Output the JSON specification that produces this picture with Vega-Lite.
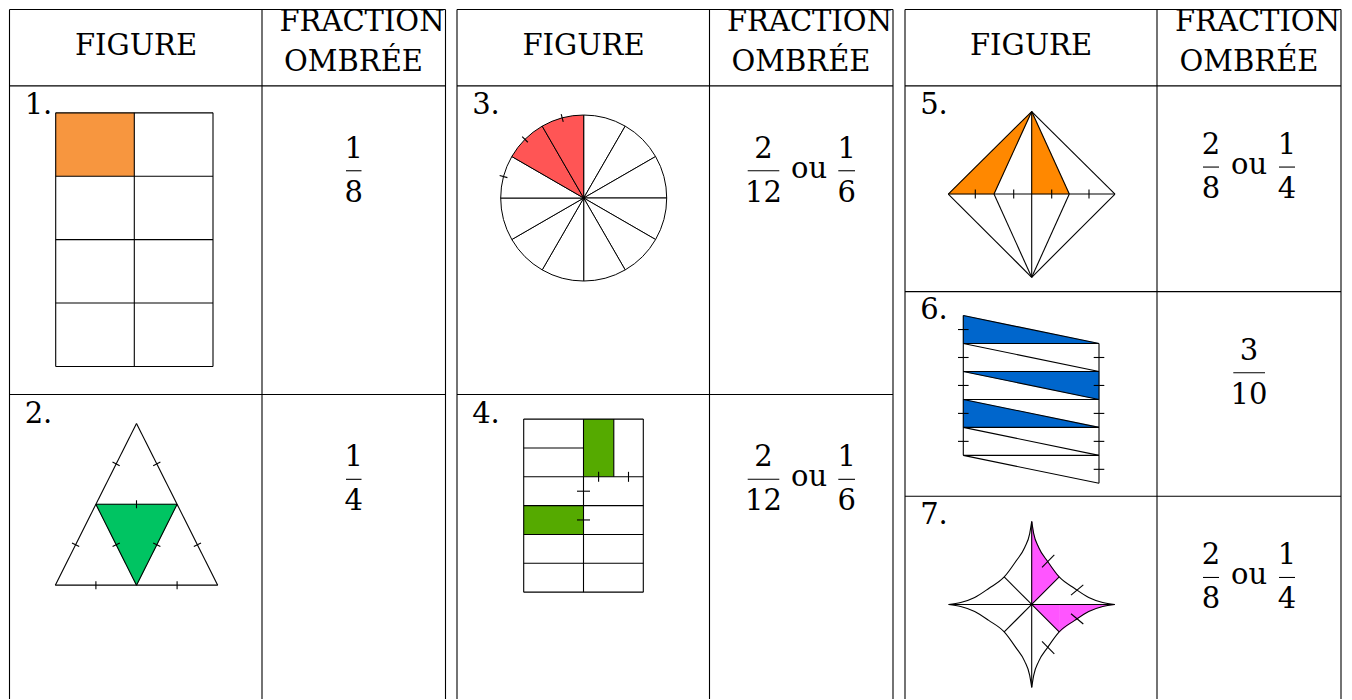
{
  "$schema": "https://vega.github.io/schema/vega-lite/v6.json",
  "width": 1352,
  "height": 700,
  "autosize": {"type": "fit", "contains": "padding"},
  "padding": 0,
  "background": "white",
  "config": {"view": {"stroke": null}},
  "datasets": {
    "rects": [
      {"x": 55.7, "x2": 134.3, "y": 113, "y2": 176.5, "c": "orange1"},
      {"x": 583.5, "x2": 613.8, "y": 419.7, "y2": 477.5, "c": "green2"},
      {"x": 523.7, "x2": 583.5, "y": 506.3, "y2": 535.2, "c": "green2"}
    ],
    "polys": [
      {"g": "f2", "x": 95.9, "y": 505, "y2": 505, "c": "green1"},
      {"g": "f2", "x": 136.5, "y": 505, "y2": 586, "c": "green1"},
      {"g": "f2", "x": 177.1, "y": 505, "y2": 505, "c": "green1"},
      {"g": "f5a", "x": 948.3, "y": 194.3, "y2": 194.3, "c": "orange2"},
      {"g": "f5a", "x": 994, "y": 149.04, "y2": 194.3, "c": "orange2"},
      {"g": "f5a", "x": 1031.7, "y": 111.7, "y2": 111.7, "c": "orange2"},
      {"g": "f5b", "x": 1031.7, "y": 111.7, "y2": 194.3, "c": "orange2"},
      {"g": "f5b", "x": 1069.3, "y": 194.3, "y2": 194.3, "c": "orange2"},
      {"g": "f6a", "x": 963.3, "y": 316, "y2": 344, "c": "blue"},
      {"g": "f6a", "x": 1099, "y": 344, "y2": 344, "c": "blue"},
      {"g": "f6b", "x": 963.3, "y": 372, "y2": 372, "c": "blue"},
      {"g": "f6b", "x": 1099, "y": 372, "y2": 400, "c": "blue"},
      {"g": "f6c", "x": 963.3, "y": 400, "y2": 428, "c": "blue"},
      {"g": "f6c", "x": 1099, "y": 428, "y2": 428, "c": "blue"},
      {"g": "f7b1", "x": 1031.7, "y": 605.3, "y2": 605.3, "c": "magenta"},
      {"g": "f7b1", "x": 1059.2, "y": 605.3, "y2": 632.8, "c": "magenta"}
    ],
    "curvefills": [
      {"g": "f7a", "x": 1031.7, "y": 522.3, "y2": 605.3, "c": "magenta"},
      {"g": "f7a", "x": 1033.7, "y": 534.3, "y2": 603.3, "c": "magenta"},
      {"g": "f7a", "x": 1038.7, "y": 548.3, "y2": 598.3, "c": "magenta"},
      {"g": "f7a", "x": 1047.7, "y": 562.3, "y2": 589.3, "c": "magenta"},
      {"g": "f7a", "x": 1059.2, "y": 577.8, "y2": 577.8, "c": "magenta"},
      {"g": "f7b2", "x": 1059.2, "y": 605.3, "y2": 632.8, "c": "magenta"},
      {"g": "f7b2", "x": 1074.7, "y": 605.3, "y2": 621.3, "c": "magenta"},
      {"g": "f7b2", "x": 1088.7, "y": 605.3, "y2": 612.3, "c": "magenta"},
      {"g": "f7b2", "x": 1102.7, "y": 605.3, "y2": 607.3, "c": "magenta"},
      {"g": "f7b2", "x": 1114.7, "y": 605.3, "y2": 605.3, "c": "magenta"}
    ],
    "pie": [
      {"cx": 583.7, "cy": 198.3, "t0": 0, "t1": 1, "c": "white"},
      {"cx": 583.7, "cy": 198.3, "t0": 1, "t1": 2, "c": "white"},
      {"cx": 583.7, "cy": 198.3, "t0": 2, "t1": 3, "c": "white"},
      {"cx": 583.7, "cy": 198.3, "t0": 3, "t1": 4, "c": "white"},
      {"cx": 583.7, "cy": 198.3, "t0": 4, "t1": 5, "c": "white"},
      {"cx": 583.7, "cy": 198.3, "t0": 5, "t1": 6, "c": "white"},
      {"cx": 583.7, "cy": 198.3, "t0": 6, "t1": 7, "c": "white"},
      {"cx": 583.7, "cy": 198.3, "t0": 7, "t1": 8, "c": "white"},
      {"cx": 583.7, "cy": 198.3, "t0": 8, "t1": 9, "c": "white"},
      {"cx": 583.7, "cy": 198.3, "t0": 9, "t1": 10, "c": "white"},
      {"cx": 583.7, "cy": 198.3, "t0": 10, "t1": 11, "c": "red"},
      {"cx": 583.7, "cy": 198.3, "t0": 11, "t1": 12, "c": "red"}
    ],
    "segs": [
      {"x": 9.5, "y": 9.5, "x2": 445.5, "y2": 9.5},
      {"x": 457, "y": 9.5, "x2": 893, "y2": 9.5},
      {"x": 905, "y": 9.5, "x2": 1341, "y2": 9.5},
      {"x": 9.5, "y": 86, "x2": 445.5, "y2": 86},
      {"x": 457, "y": 86, "x2": 893, "y2": 86},
      {"x": 905, "y": 86, "x2": 1341, "y2": 86},
      {"x": 9.5, "y": 9.5, "x2": 9.5, "y2": 700},
      {"x": 262, "y": 9.5, "x2": 262, "y2": 700},
      {"x": 445.5, "y": 9.5, "x2": 445.5, "y2": 700},
      {"x": 457, "y": 9.5, "x2": 457, "y2": 700},
      {"x": 709.5, "y": 9.5, "x2": 709.5, "y2": 700},
      {"x": 893, "y": 9.5, "x2": 893, "y2": 700},
      {"x": 905, "y": 9.5, "x2": 905, "y2": 700},
      {"x": 1157, "y": 9.5, "x2": 1157, "y2": 700},
      {"x": 1341, "y": 9.5, "x2": 1341, "y2": 700},
      {"x": 9.5, "y": 395, "x2": 445.5, "y2": 395},
      {"x": 457, "y": 395, "x2": 893, "y2": 395},
      {"x": 905, "y": 292, "x2": 1341, "y2": 292},
      {"x": 905, "y": 497, "x2": 1341, "y2": 497},

      {"x": 55.7, "y": 113, "x2": 213, "y2": 113},
      {"x": 213, "y": 113, "x2": 213, "y2": 367},
      {"x": 55.7, "y": 367, "x2": 213, "y2": 367},
      {"x": 55.7, "y": 113, "x2": 55.7, "y2": 367},
      {"x": 134.3, "y": 113, "x2": 134.3, "y2": 367},
      {"x": 55.7, "y": 176.5, "x2": 213, "y2": 176.5},
      {"x": 55.7, "y": 240, "x2": 213, "y2": 240},
      {"x": 55.7, "y": 303.5, "x2": 213, "y2": 303.5},

      {"x": 136.5, "y": 424, "x2": 55.3, "y2": 586},
      {"x": 55.3, "y": 586, "x2": 217.7, "y2": 586},
      {"x": 217.7, "y": 586, "x2": 136.5, "y2": 424},
      {"x": 95.9, "y": 505, "x2": 177.1, "y2": 505},
      {"x": 95.9, "y": 505, "x2": 136.5, "y2": 586},
      {"x": 177.1, "y": 505, "x2": 136.5, "y2": 586},
      {"x": 112.5, "y": 462.7, "x2": 119.7, "y2": 466.3},
      {"x": 72.0, "y": 543.7, "x2": 79.2, "y2": 547.3},
      {"x": 153.2, "y": 466.3, "x2": 160.4, "y2": 462.7},
      {"x": 193.8, "y": 547.3, "x2": 201.0, "y2": 543.7},
      {"x": 95.9, "y": 582, "x2": 95.9, "y2": 590},
      {"x": 177.1, "y": 582, "x2": 177.1, "y2": 590},
      {"x": 136.5, "y": 501, "x2": 136.5, "y2": 509},
      {"x": 112.6, "y": 547.3, "x2": 119.8, "y2": 543.7},
      {"x": 153.2, "y": 543.7, "x2": 160.4, "y2": 547.3},

      {"x": 563.25, "y": 122, "x2": 561.18, "y2": 114.27},
      {"x": 527.84, "y": 142.44, "x2": 522.18, "y2": 136.78},
      {"x": 507.39, "y": 177.85, "x2": 499.67, "y2": 175.78},

      {"x": 523.7, "y": 419.7, "x2": 643.3, "y2": 419.7},
      {"x": 643.3, "y": 419.7, "x2": 643.3, "y2": 593},
      {"x": 523.7, "y": 593, "x2": 643.3, "y2": 593},
      {"x": 523.7, "y": 419.7, "x2": 523.7, "y2": 593},
      {"x": 523.7, "y": 448.6, "x2": 583.5, "y2": 448.6},
      {"x": 523.7, "y": 477.5, "x2": 643.3, "y2": 477.5},
      {"x": 523.7, "y": 506.3, "x2": 643.3, "y2": 506.3},
      {"x": 523.7, "y": 535.2, "x2": 643.3, "y2": 535.2},
      {"x": 523.7, "y": 564.1, "x2": 643.3, "y2": 564.1},
      {"x": 583.5, "y": 419.7, "x2": 583.5, "y2": 593},
      {"x": 613.8, "y": 419.7, "x2": 613.8, "y2": 477.5},
      {"x": 598.6, "y": 472.5, "x2": 598.6, "y2": 482.5},
      {"x": 628.5, "y": 472.5, "x2": 628.5, "y2": 482.5},
      {"x": 577, "y": 491.9, "x2": 590, "y2": 491.9},
      {"x": 577, "y": 520.7, "x2": 590, "y2": 520.7},

      {"x": 1031.7, "y": 111.7, "x2": 948.3, "y2": 194.3},
      {"x": 1031.7, "y": 111.7, "x2": 1115, "y2": 194.3},
      {"x": 1031.7, "y": 277.7, "x2": 948.3, "y2": 194.3},
      {"x": 1031.7, "y": 277.7, "x2": 1115, "y2": 194.3},
      {"x": 1031.7, "y": 111.7, "x2": 994, "y2": 194.3},
      {"x": 1031.7, "y": 111.7, "x2": 1069.3, "y2": 194.3},
      {"x": 1031.7, "y": 277.7, "x2": 994, "y2": 194.3},
      {"x": 1031.7, "y": 277.7, "x2": 1069.3, "y2": 194.3},
      {"x": 1031.7, "y": 111.7, "x2": 1031.7, "y2": 277.7},
      {"x": 948.3, "y": 194.3, "x2": 1115, "y2": 194.3},
      {"x": 975.3, "y": 189.8, "x2": 975.3, "y2": 198.8},
      {"x": 1013.7, "y": 189.8, "x2": 1013.7, "y2": 198.8},
      {"x": 1051.7, "y": 189.8, "x2": 1051.7, "y2": 198.8},
      {"x": 1089, "y": 189.8, "x2": 1089, "y2": 198.8},

      {"x": 963.3, "y": 316, "x2": 963.3, "y2": 456},
      {"x": 1099, "y": 344, "x2": 1099, "y2": 484},
      {"x": 963.3, "y": 344, "x2": 1099, "y2": 344},
      {"x": 963.3, "y": 372, "x2": 1099, "y2": 372},
      {"x": 963.3, "y": 400, "x2": 1099, "y2": 400},
      {"x": 963.3, "y": 428, "x2": 1099, "y2": 428},
      {"x": 963.3, "y": 456, "x2": 1099, "y2": 456},
      {"x": 963.3, "y": 316, "x2": 1099, "y2": 344},
      {"x": 963.3, "y": 344, "x2": 1099, "y2": 372},
      {"x": 963.3, "y": 372, "x2": 1099, "y2": 400},
      {"x": 963.3, "y": 400, "x2": 1099, "y2": 428},
      {"x": 963.3, "y": 428, "x2": 1099, "y2": 456},
      {"x": 963.3, "y": 456, "x2": 1099, "y2": 484},
      {"x": 958, "y": 330, "x2": 968.6, "y2": 330},
      {"x": 958, "y": 358, "x2": 968.6, "y2": 358},
      {"x": 958, "y": 386, "x2": 968.6, "y2": 386},
      {"x": 958, "y": 414, "x2": 968.6, "y2": 414},
      {"x": 958, "y": 442, "x2": 968.6, "y2": 442},
      {"x": 1093.7, "y": 358, "x2": 1104.3, "y2": 358},
      {"x": 1093.7, "y": 386, "x2": 1104.3, "y2": 386},
      {"x": 1093.7, "y": 414, "x2": 1104.3, "y2": 414},
      {"x": 1093.7, "y": 442, "x2": 1104.3, "y2": 442},
      {"x": 1093.7, "y": 470, "x2": 1104.3, "y2": 470},

      {"x": 1031.7, "y": 522.3, "x2": 1031.7, "y2": 688.3},
      {"x": 948.7, "y": 605.3, "x2": 1114.7, "y2": 605.3},
      {"x": 1031.7, "y": 605.3, "x2": 1059.2, "y2": 577.8},
      {"x": 1031.7, "y": 605.3, "x2": 1004.2, "y2": 577.8},
      {"x": 1031.7, "y": 605.3, "x2": 1004.2, "y2": 632.8},
      {"x": 1031.7, "y": 605.3, "x2": 1059.2, "y2": 632.8},
      {"x": 1042, "y": 568.3, "x2": 1054.3, "y2": 555.7},
      {"x": 1071, "y": 596, "x2": 1083.3, "y2": 585.7},
      {"x": 1071, "y": 614.6, "x2": 1083.3, "y2": 624.9},
      {"x": 1042, "y": 642.3, "x2": 1054.3, "y2": 654.9},

      {"x": 346, "y": 171, "x2": 361.5, "y2": 171},
      {"x": 346, "y": 480, "x2": 361.5, "y2": 480},
      {"x": 747.7, "y": 171, "x2": 779.3, "y2": 171},
      {"x": 838.3, "y": 171, "x2": 855, "y2": 171},
      {"x": 747.7, "y": 480, "x2": 779.3, "y2": 480},
      {"x": 838.3, "y": 480, "x2": 855, "y2": 480},
      {"x": 1203, "y": 167.3, "x2": 1219, "y2": 167.3},
      {"x": 1279, "y": 167.3, "x2": 1295, "y2": 167.3},
      {"x": 1233.3, "y": 373.3, "x2": 1265, "y2": 373.3},
      {"x": 1203, "y": 578.3, "x2": 1219, "y2": 578.3},
      {"x": 1279, "y": 578.3, "x2": 1295, "y2": 578.3}
    ],
    "curves": [
      {"g": "ur", "x": 1031.7, "y": 522.3}, {"g": "ur", "x": 1033.7, "y": 534.3}, {"g": "ur", "x": 1038.7, "y": 548.3},
      {"g": "ur", "x": 1047.7, "y": 562.3}, {"g": "ur", "x": 1059.2, "y": 577.8}, {"g": "ur", "x": 1074.7, "y": 589.3},
      {"g": "ur", "x": 1088.7, "y": 598.3}, {"g": "ur", "x": 1102.7, "y": 603.3}, {"g": "ur", "x": 1114.7, "y": 605.3},
      {"g": "ul", "x": 948.7, "y": 605.3}, {"g": "ul", "x": 960.7, "y": 603.3}, {"g": "ul", "x": 974.7, "y": 598.3},
      {"g": "ul", "x": 988.7, "y": 589.3}, {"g": "ul", "x": 1004.2, "y": 577.8}, {"g": "ul", "x": 1015.7, "y": 562.3},
      {"g": "ul", "x": 1024.7, "y": 548.3}, {"g": "ul", "x": 1029.7, "y": 534.3}, {"g": "ul", "x": 1031.7, "y": 522.3},
      {"g": "ll", "x": 948.7, "y": 605.3}, {"g": "ll", "x": 960.7, "y": 607.3}, {"g": "ll", "x": 974.7, "y": 612.3},
      {"g": "ll", "x": 988.7, "y": 621.3}, {"g": "ll", "x": 1004.2, "y": 632.8}, {"g": "ll", "x": 1015.7, "y": 648.3},
      {"g": "ll", "x": 1024.7, "y": 662.3}, {"g": "ll", "x": 1029.7, "y": 676.3}, {"g": "ll", "x": 1031.7, "y": 688.3},
      {"g": "lr", "x": 1031.7, "y": 688.3}, {"g": "lr", "x": 1033.7, "y": 676.3}, {"g": "lr", "x": 1038.7, "y": 662.3},
      {"g": "lr", "x": 1047.7, "y": 648.3}, {"g": "lr", "x": 1059.2, "y": 632.8}, {"g": "lr", "x": 1074.7, "y": 621.3},
      {"g": "lr", "x": 1088.7, "y": 612.3}, {"g": "lr", "x": 1102.7, "y": 607.3}, {"g": "lr", "x": 1114.7, "y": 605.3}
    ],
    "texts": [
      {"t": "FIGURE", "x": 136, "y": 55.5},
      {"t": "FIGURE", "x": 583.5, "y": 55.5},
      {"t": "FIGURE", "x": 1031, "y": 55.5},
      {"t": "FRACTION", "x": 362, "y": 31},
      {"t": "FRACTION", "x": 809.5, "y": 31},
      {"t": "FRACTION", "x": 1257.5, "y": 31},
      {"t": "OMBRÉE", "x": 353.5, "y": 71},
      {"t": "OMBRÉE", "x": 801, "y": 71},
      {"t": "OMBRÉE", "x": 1249, "y": 71},
      {"t": "1.", "x": 38.5, "y": 113.7},
      {"t": "2.", "x": 38.5, "y": 423.3},
      {"t": "3.", "x": 486, "y": 113.7},
      {"t": "4.", "x": 486, "y": 423.3},
      {"t": "5.", "x": 934, "y": 113.7},
      {"t": "6.", "x": 934, "y": 319.7},
      {"t": "7.", "x": 934, "y": 524.7},
      {"t": "1", "x": 353.75, "y": 158},
      {"t": "8", "x": 353.75, "y": 202},
      {"t": "1", "x": 353.75, "y": 467},
      {"t": "4", "x": 353.75, "y": 511},
      {"t": "2", "x": 763.5, "y": 158},
      {"t": "12", "x": 763.5, "y": 202},
      {"t": "ou", "x": 809, "y": 178},
      {"t": "1", "x": 846.7, "y": 158},
      {"t": "6", "x": 846.7, "y": 202},
      {"t": "2", "x": 763.5, "y": 467},
      {"t": "12", "x": 763.5, "y": 511},
      {"t": "ou", "x": 809, "y": 487},
      {"t": "1", "x": 846.7, "y": 467},
      {"t": "6", "x": 846.7, "y": 511},
      {"t": "2", "x": 1211, "y": 154.3},
      {"t": "8", "x": 1211, "y": 198.3},
      {"t": "ou", "x": 1249, "y": 174.3},
      {"t": "1", "x": 1287, "y": 154.3},
      {"t": "4", "x": 1287, "y": 198.3},
      {"t": "3", "x": 1249, "y": 360.3},
      {"t": "10", "x": 1249, "y": 404.3},
      {"t": "2", "x": 1211, "y": 565.3},
      {"t": "8", "x": 1211, "y": 609.3},
      {"t": "ou", "x": 1249, "y": 585.3},
      {"t": "1", "x": 1287, "y": 565.3},
      {"t": "4", "x": 1287, "y": 609.3}
    ]
  },
  "layer": [
    {
      "data": {"name": "rects"},
      "mark": {"type": "rect"},
      "encoding": {
        "x": {"field": "x", "type": "quantitative", "scale": {"domain": [0, 1352], "nice": false, "zero": false}, "axis": null},
        "x2": {"field": "x2"},
        "y": {"field": "y", "type": "quantitative", "scale": {"domain": [0, 700], "nice": false, "zero": false, "reverse": true}, "axis": null},
        "y2": {"field": "y2"},
        "fill": {"field": "c", "type": "nominal", "legend": null,
          "scale": {"domain": ["orange1", "green1", "red", "white", "green2", "orange2", "blue", "magenta"],
                    "range": ["#F7963F", "#00C462", "#FF5555", "#FFFFFF", "#55AA00", "#FF8800", "#0066CC", "#FF55FF"]}}
      }
    },
    {
      "data": {"name": "polys"},
      "mark": {"type": "area", "orient": "vertical", "interpolate": "linear", "strokeWidth": 0.5},
      "encoding": {
        "x": {"field": "x", "type": "quantitative"},
        "y": {"field": "y", "type": "quantitative", "stack": null},
        "y2": {"field": "y2"},
        "detail": {"field": "g"},
        "fill": {"field": "c", "type": "nominal", "legend": null},
        "stroke": {"field": "c", "type": "nominal", "legend": null,
          "scale": {"domain": ["orange1", "green1", "red", "white", "green2", "orange2", "blue", "magenta"],
                    "range": ["#F7963F", "#00C462", "#FF5555", "#FFFFFF", "#55AA00", "#FF8800", "#0066CC", "#FF55FF"]}}
      }
    },
    {
      "data": {"name": "curvefills"},
      "mark": {"type": "area", "orient": "vertical", "interpolate": "monotone", "strokeWidth": 0.5},
      "encoding": {
        "x": {"field": "x", "type": "quantitative"},
        "y": {"field": "y", "type": "quantitative", "stack": null},
        "y2": {"field": "y2"},
        "detail": {"field": "g"},
        "fill": {"field": "c", "type": "nominal", "legend": null},
        "stroke": {"field": "c", "type": "nominal", "legend": null}
      }
    },
    {
      "data": {"name": "pie"},
      "mark": {"type": "arc", "outerRadius": 83, "stroke": "black", "strokeWidth": 1},
      "encoding": {
        "x": {"field": "cx", "type": "quantitative"},
        "y": {"field": "cy", "type": "quantitative"},
        "theta": {"field": "t0", "type": "quantitative", "stack": null, "scale": {"type": "linear", "domain": [0, 12], "range": [0, 6.283185307]}},
        "theta2": {"field": "t1"},
        "fill": {"field": "c", "type": "nominal", "legend": null}
      }
    },
    {
      "data": {"name": "segs"},
      "mark": {"type": "rule", "color": "black", "strokeWidth": 1.1},
      "encoding": {
        "x": {"field": "x", "type": "quantitative"},
        "y": {"field": "y", "type": "quantitative"},
        "x2": {"field": "x2"},
        "y2": {"field": "y2"}
      }
    },
    {
      "data": {"name": "curves"},
      "mark": {"type": "line", "interpolate": "monotone", "color": "black", "strokeWidth": 1.1},
      "encoding": {
        "x": {"field": "x", "type": "quantitative"},
        "y": {"field": "y", "type": "quantitative"},
        "detail": {"field": "g"}
      }
    },
    {
      "data": {"name": "texts"},
      "mark": {"type": "text", "font": "DejaVu Serif", "fontSize": 29, "align": "center", "baseline": "alphabetic", "color": "black"},
      "encoding": {
        "x": {"field": "x", "type": "quantitative"},
        "y": {"field": "y", "type": "quantitative"},
        "text": {"field": "t"}
      }
    }
  ]
}
